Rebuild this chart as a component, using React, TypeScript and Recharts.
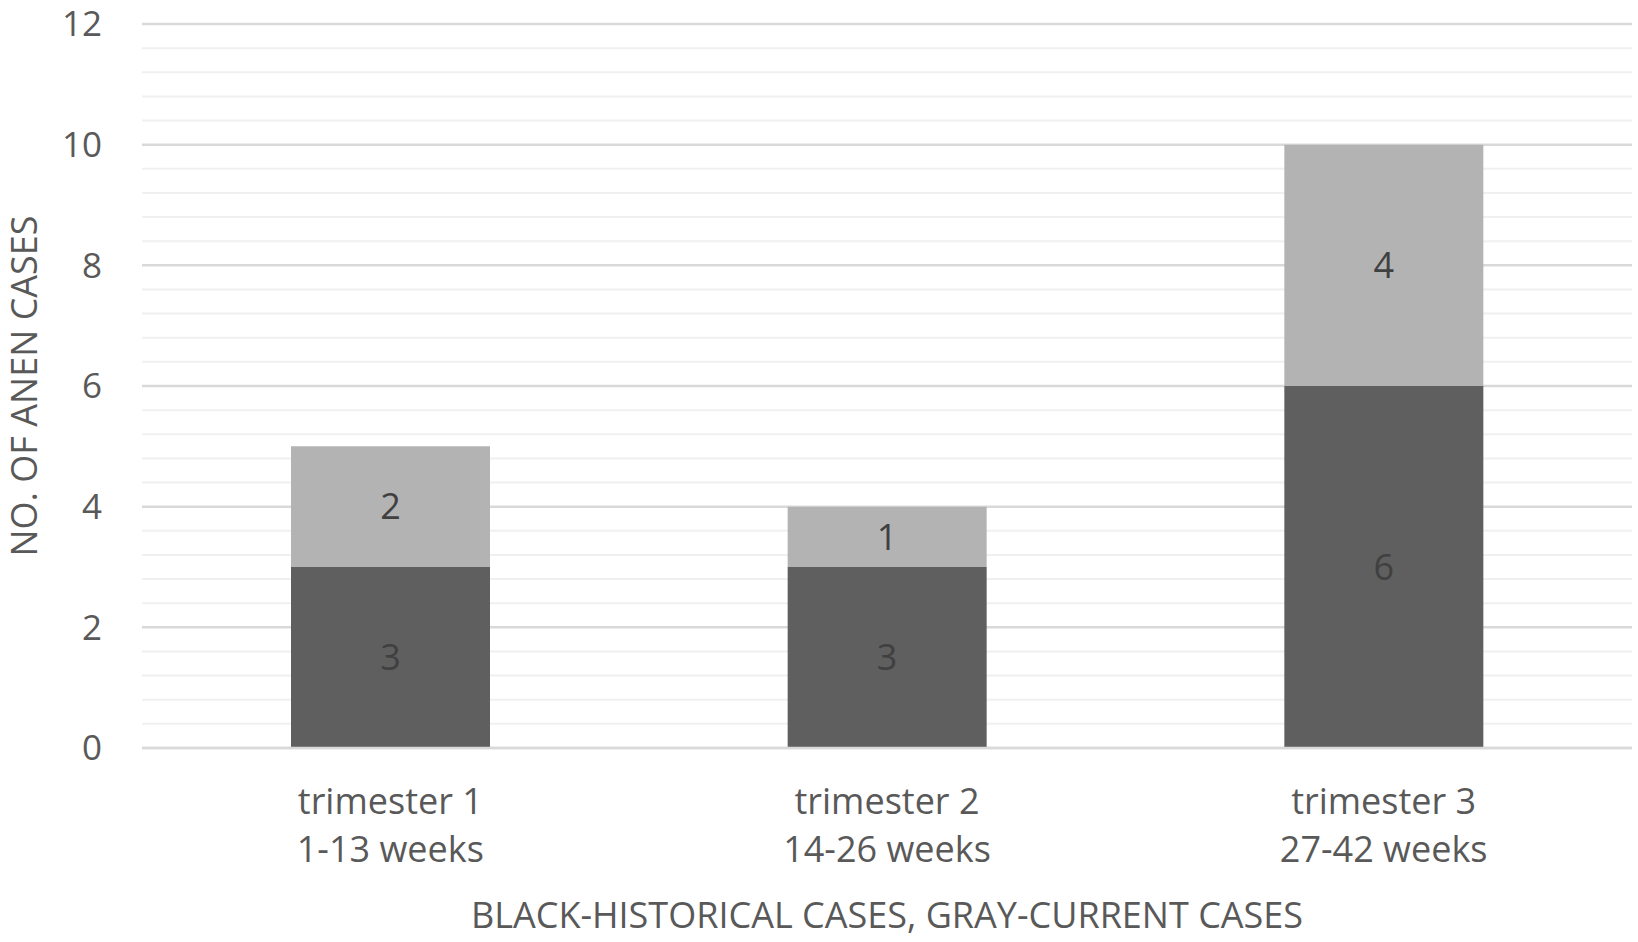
import React from 'react';
import { BarChart, XAxis, YAxis, CartesianGrid, Bar, LabelList } from 'recharts';

const trimesters = ['trimester 1', 'trimester 2', 'trimester 3'];
const weekRanges = ['1-13 weeks', '14-26 weeks', '27-42 weeks'];
const historical = [3, 3, 6];
const current = [2, 1, 4];
const yTicks = [0, 2, 4, 6, 8, 10, 12];
const minorTicks = [0.4, 0.8, 1.2, 1.6, 2.4, 2.8, 3.2, 3.6, 4.4, 4.8, 5.2, 5.6, 6.4, 6.8, 7.2, 7.6, 8.4, 8.8, 9.2, 9.6, 10.4, 10.8, 11.2, 11.6];

const data = trimesters.map((t, i) => ({
  name: t,
  weeks: weekRanges[i],
  historical: historical[i],
  current: current[i],
}));

const FONT = '"Open Sans", sans-serif';
const TEXT = '#595959';

const CategoryTick = (props: any) => {
  const { x, y, index } = props;
  return (
    <text x={x} textAnchor="middle" fill={TEXT} fontSize={36} fontFamily={FONT}>
      <tspan x={x} y={y + 66}>{trimesters[index]}</tspan>
      <tspan x={x} y={y + 114}>{weekRanges[index]}</tspan>
    </text>
  );
};

const YTitle = (props: any) => {
  const vb = props.viewBox;
  const cx = 23;
  const cy = vb.y + vb.height / 2;
  return (
    <text x={cx} y={cy} transform={`rotate(-90 ${cx} ${cy})`} textAnchor="middle"
      dominantBaseline="central" fill={TEXT} fontSize={36} fontFamily={FONT}>
      NO. OF ANEN CASES
    </text>
  );
};

const XTitle = (props: any) => {
  const vb = props.viewBox;
  return (
    <text x={vb.x + vb.width / 2} y={vb.y + 180} textAnchor="middle" fill={TEXT}
      fontSize={36} fontFamily={FONT}>
      BLACK-HISTORICAL CASES, GRAY-CURRENT CASES
    </text>
  );
};

export default function App() {
  return (
    <div style={{ position: 'absolute', left: 0, top: 0, background: '#fff' }}>
      <BarChart width={1638} height={942} data={data} barCategoryGap="30%"
        margin={{ top: 24, right: 6, left: 0, bottom: 0 }}>
        <CartesianGrid vertical={false} horizontalValues={minorTicks} stroke="#f0f0f0" strokeWidth={2} />
        <CartesianGrid vertical={false} horizontalValues={yTicks} stroke="#d9d9d9" strokeWidth={2.5} />
        <XAxis dataKey="name" height={194} tickLine={false} tickSize={0} tickMargin={0}
          axisLine={{ stroke: '#d9d9d9', strokeWidth: 2.5 }} tick={<CategoryTick />}
          interval={0} label={<XTitle />} />
        <YAxis domain={[0, 12]} ticks={yTicks} width={142} axisLine={false} tickLine={false}
          tickSize={0} tickMargin={40} interval={0}
          tick={{ fill: TEXT, fontSize: 35, fontFamily: FONT }} label={<YTitle />} />
        <Bar dataKey="historical" stackId="a" fill="#5f5f5f" isAnimationActive={false}>
          <LabelList dataKey="historical" position="center" fill="#404040" fontSize={36} fontFamily={FONT} />
        </Bar>
        <Bar dataKey="current" stackId="a" fill="#b3b3b3" isAnimationActive={false}>
          <LabelList dataKey="current" position="center" fill="#404040" fontSize={36} fontFamily={FONT} />
        </Bar>
      </BarChart>
    </div>
  );
}
